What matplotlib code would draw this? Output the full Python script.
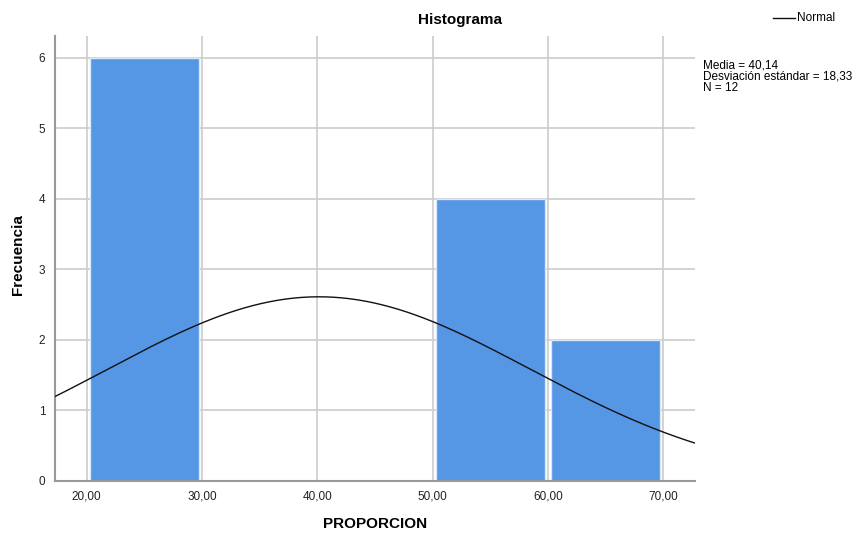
import numpy as np
import matplotlib
matplotlib.use('Agg')
import matplotlib.pyplot as plt

plt.rcParams['font.family'] = ['Liberation Sans', 'DejaVu Sans']

# Datos del histograma
bin_edges = [20, 30, 40, 50, 60, 70]
frecuencias = [6, 0, 0, 4, 2]
media = 40.14
desv = 18.33
n = 12
x_ticks = [20, 30, 40, 50, 60, 70]
x_tick_labels = ['20,00', '30,00', '40,00', '50,00', '60,00', '70,00']
y_ticks = [0, 1, 2, 3, 4, 5, 6]

fig = plt.figure(figsize=(8.57, 5.34), dpi=100)
ax = fig.add_axes([0.0642, 0.0993, 0.7468, 0.8333])

# Barras (ligeramente separadas de las líneas de la rejilla)
lefts = np.array(bin_edges[:-1], dtype=float)
ancho = np.diff(bin_edges).astype(float)
ax.bar(lefts + 0.25, frecuencias, width=ancho - 0.5, align='edge', color='#5596e5',
       edgecolor='#dbe7f7', linewidth=1.0, zorder=2)

# Curva normal
xs = np.linspace(17, 73, 400)
pdf = np.exp(-0.5 * ((xs - media) / desv) ** 2) / (desv * np.sqrt(2 * np.pi))
ax.plot(xs, pdf * n * 10, color='#111111', linewidth=1.0, zorder=3)

ax.set_xlim(17.25, 72.75)
ax.set_ylim(0, 6.31)
ax.set_xticks(x_ticks)
ax.set_xticklabels(x_tick_labels)
ax.set_yticks(y_ticks)
ax.grid(True, color='#cccccc', linewidth=1.2, zorder=0)
ax.set_axisbelow(True)
for s in ['top', 'right']:
    ax.spines[s].set_visible(False)
for s in ['left', 'bottom']:
    ax.spines[s].set_color('#999999')
    ax.spines[s].set_linewidth(1.5)
ax.tick_params(axis='both', labelsize=8.5, length=0, pad=7, colors='#222222')

fig.text(460 / 857, 1 - 20 / 534, 'Histograma', ha='center', va='center',
         fontsize=11, fontweight='bold')
fig.text(18 / 857, 1 - 255 / 534, 'Frecuencia', ha='center', va='center',
         rotation=90, fontsize=11, fontweight='bold')
fig.text(375 / 857, 1 - 524 / 534, 'PROPORCION', ha='center', va='center',
         fontsize=11, fontweight='bold')

# Leyenda
fig.add_artist(plt.Line2D([773 / 857, 795 / 857], [1 - 18 / 534, 1 - 18 / 534],
                          color='#111111', linewidth=1.0))
fig.text(797 / 857, 1 - 18 / 534, 'Normal', ha='left', va='center', fontsize=8.5)
fig.text(703 / 857, 1 - 59 / 534,
         'Media = 40,14\nDesviación estándar = 18,33\nN = 12',
         ha='left', va='top', fontsize=8.5, linespacing=0.92)

fig.savefig('out.png', dpi=100)
